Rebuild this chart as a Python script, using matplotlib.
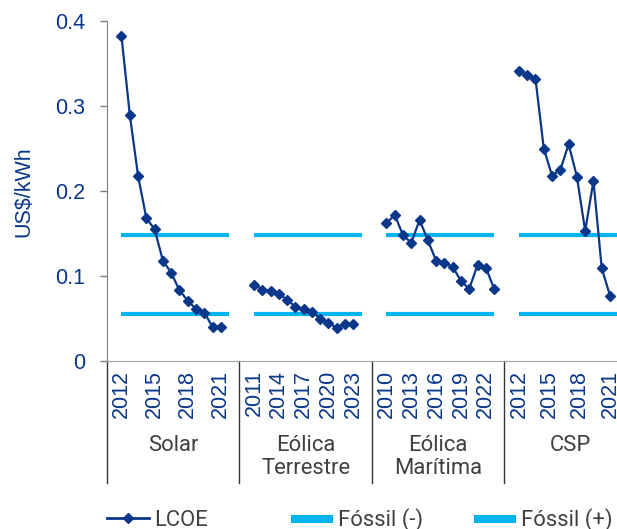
import numpy as np
import matplotlib.pyplot as plt
from matplotlib.lines import Line2D
import matplotlib.transforms as mtransforms

# LCOE por tecnologia (US$/kWh)
grupos = ["Solar", "Eólica\nTerrestre", "Eólica\nMarítima", "CSP"]
solar = [0.382, 0.290, 0.218, 0.168, 0.155, 0.118, 0.104, 0.083, 0.071, 0.061, 0.057, 0.040, 0.040]
terrestre = [0.090, 0.084, 0.082, 0.079, 0.072, 0.064, 0.061, 0.058, 0.050, 0.045, 0.039, 0.044, 0.044]
maritima = [0.162, 0.172, 0.148, 0.139, 0.166, 0.142, 0.118, 0.115, 0.111, 0.094, 0.085, 0.113, 0.110, 0.085]
csp = [0.341, 0.337, 0.332, 0.250, 0.218, 0.225, 0.255, 0.217, 0.153, 0.212, 0.109, 0.077]

# anos mostrados no eixo
anos_solar = ["2012", "2015", "2018", "2021"]
anos_terrestre = ["2011", "2014", "2017", "2020", "2023"]
anos_maritima = ["2010", "2013", "2016", "2019", "2022"]
anos_csp = ["2012", "2015", "2018", "2021"]

# faixa de custo dos fosseis
fossil_min = [0.055, 0.055, 0.055, 0.055]
fossil_max = [0.148, 0.148, 0.148, 0.148]

series = [solar, terrestre, maritima, csp]
anos = [anos_solar, anos_terrestre, anos_maritima, anos_csp]

azul = "#0A3789"
ciano = "#00B4EF"
cinza = "#404040"
fs = 15.5

plt.rcParams["font.family"] = ["Liberation Sans", "DejaVu Sans"]

fig = plt.figure(figsize=(6.17, 5.29), dpi=100)
ax = fig.add_axes([107 / 617, 1 - 361 / 529, 510 / 617, 340 / 529])

passo = 16   # largura de cada grupo no eixo x
borda = -1.75

ticks_pos = []
ticks_lab = []
for g, vals in enumerate(series):
    x0 = g * passo
    x = x0 + np.arange(len(vals))
    ax.plot([x0, x0 + 13], [fossil_min[g]] * 2, color=ciano, lw=3, solid_capstyle="butt", zorder=2)
    ax.plot([x0, x0 + 13], [fossil_max[g]] * 2, color=ciano, lw=3, solid_capstyle="butt", zorder=2)
    ax.plot(x, vals, color=azul, lw=1.6, marker="D", ms=4.6, zorder=3)
    fim = min(len(vals), 13) - 1
    ticks_pos += list(x0 + np.linspace(0, fim, len(anos[g])))
    ticks_lab += anos[g]

ax.set_ylim(0, 0.4)
ax.set_xlim(borda, borda + 510 / 8.28)
ax.set_yticks([0, 0.1, 0.2, 0.3, 0.4])
ax.set_yticklabels(["0", "0.1", "0.2", "0.3", "0.4"])
ax.set_xticks(ticks_pos)
ax.set_xticklabels(ticks_lab, rotation=90)
ax.tick_params(axis="x", length=0, pad=6.5, labelsize=15.5, labelcolor=azul)
ax.tick_params(axis="y", length=5, width=1, color="#7f7f7f", pad=11, labelsize=fs, labelcolor=azul)
ax.set_ylabel("US$/kWh", color=azul, fontsize=fs)
ax.yaxis.set_label_coords(-(107 - 34) / 510, (361 - 192) / 340)

for lado in ["top", "right"]:
    ax.spines[lado].set_visible(False)
ax.spines["left"].set_color("#7f7f7f")
ax.spines["bottom"].set_color("#a6a6a6")

# separadores e nomes dos grupos abaixo do eixo
trans = mtransforms.blended_transform_factory(ax.transData, ax.transAxes)
for g in range(len(grupos) + 1):
    xs = g * passo + borda
    ax.plot([xs, xs], [0, -0.359], color="#333333", lw=1, transform=trans, clip_on=False)
for g, nome in enumerate(grupos):
    ax.text(g * passo + borda + passo / 2, -0.218, nome, transform=trans, ha="center", va="top",
            fontsize=15.8, color=cinza, family=["Roboto", "DejaVu Sans"], linespacing=1.1)

# legenda
itens = [
    (Line2D([], [], color=azul, lw=2, marker="D", ms=4.6), "LCOE", 107),
    (Line2D([], [], color=ciano, lw=5.8, solid_capstyle="butt"), "Fóssil (-)", 291),
    (Line2D([], [], color=ciano, lw=5.8, solid_capstyle="butt"), "Fóssil (+)", 474),
]
for h, txt, px in itens:
    leg = fig.legend([h], [txt], loc="center left", bbox_to_anchor=(px / 617, 1 - 520 / 529),
                     frameon=False, borderpad=0, borderaxespad=0, handlelength=1.9,
                     handletextpad=0.25, numpoints=1,
                     prop={"family": ["Roboto", "DejaVu Sans"], "size": 15.8})
    for t in leg.get_texts():
        t.set_color(cinza)

fig.savefig("out.png", dpi=100)
